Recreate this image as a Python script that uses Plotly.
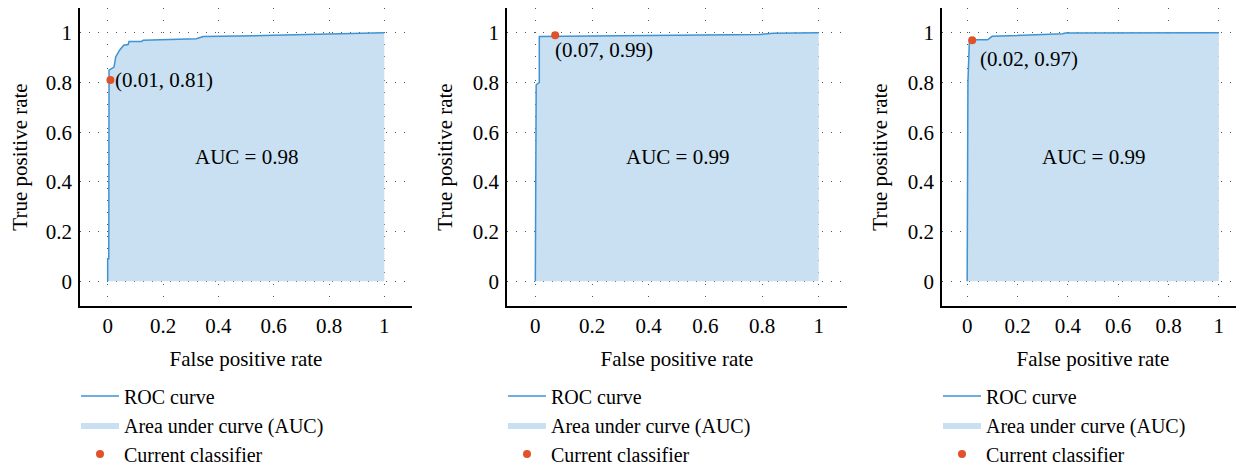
import plotly.graph_objects as go

# ---- data ----
fpr1 = [0.0, 0.0, 0.004, 0.005, 0.023, 0.029, 0.043, 0.058, 0.074, 0.077, 0.122, 0.128, 0.321, 0.345, 0.6, 0.85, 1.0]
tpr1 = [0.0, 0.09, 0.09, 0.850, 0.862, 0.903, 0.930, 0.950, 0.953, 0.965, 0.965, 0.970, 0.976, 0.985, 0.990, 0.995, 1.0]
fpr2 = [0.0, 0.003, 0.014, 0.014, 0.2, 0.5, 0.79, 0.84, 1.0]
tpr2 = [0.0, 0.79, 0.80, 0.985, 0.987, 0.990, 0.993, 0.998, 1.0]
fpr3 = [0.0, 0.003, 0.009, 0.02, 0.081, 0.099, 0.28, 0.29, 0.38, 0.39, 1.0]
tpr3 = [0.0, 0.80, 0.972, 0.972, 0.972, 0.986, 0.992, 0.995, 0.996, 0.999, 1.0]

points_x = [0.01, 0.07, 0.02]
points_y = [0.81, 0.99, 0.97]
point_labels = ["(0.01, 0.81)", "(0.07, 0.99)", "(0.02, 0.97)"]
auc_labels = ["AUC = 0.98", "AUC = 0.99", "AUC = 0.99"]

tick_vals = [0, 0.2, 0.4, 0.6, 0.8, 1]
tick_text = ["0", "0.2", "0.4", "0.6", "0.8", "1"]

series_names = ["ROC curve", "Area under curve (AUC)", "Current classifier"]

# ---- style ----
FONT = "Liberation Serif"
FS = 21
LEG_FS = 20
LINE_C = "#3f93d3"
FILL_C = "#c8e0f1"
DOT_C = "#e0532a"

# page has an 8px body margin; figure is sized to fit the visible window
W, H = 1236, 462
M_T, M_B = 0, 164
domains = [[72 / W, 404 / W], [499 / W, 839 / W], [934 / W, 1.0]]
legend_x = [68 / W, 495 / W, 930 / W]
label_shift = [(3, 0), (-2, -15), (6, -19)]

curves = [(fpr1, tpr1), (fpr2, tpr2), (fpr3, tpr3)]

fig = go.Figure()
for i, (fx, ty) in enumerate(curves):
    sfx = "" if i == 0 else str(i + 1)
    xa, ya = "x" + sfx, "y" + sfx
    leg = "legend" + sfx
    fig.add_trace(go.Scatter(x=fx, y=ty, mode="lines", fill="tozeroy",
                             fillcolor=FILL_C, line=dict(width=0, color=FILL_C),
                             name=series_names[1], legend=leg, legendrank=2,
                             xaxis=xa, yaxis=ya, hoverinfo="skip"))
    fig.add_trace(go.Scatter(x=fx, y=ty, mode="lines",
                             line=dict(width=1.5, color=LINE_C),
                             name=series_names[0], legend=leg, legendrank=1,
                             xaxis=xa, yaxis=ya))
    fig.add_trace(go.Scatter(x=[points_x[i]], y=[points_y[i]], mode="markers",
                             marker=dict(size=8, color=DOT_C),
                             name=series_names[2], legend=leg, legendrank=3,
                             xaxis=xa, yaxis=ya))
    xs, ys = label_shift[i]
    fig.add_annotation(x=points_x[i], y=points_y[i], xref=xa, yref=ya,
                       text=point_labels[i], showarrow=False, xanchor="left",
                       yanchor="middle", xshift=xs, yshift=ys,
                       font=dict(family=FONT, size=FS, color="black"))
    fig.add_annotation(x=0.5, y=0.5, xref=xa, yref=ya, text=auc_labels[i],
                       showarrow=False, xanchor="center", yanchor="middle",
                       font=dict(family=FONT, size=FS, color="black"))

    axis_common = dict(range=[-0.1, 1.1], tickvals=tick_vals, ticktext=tick_text,
                       showline=True, linecolor="black", linewidth=1.5,
                       showgrid=True, gridcolor="#555555", gridwidth=1,
                       zeroline=False, ticks="", automargin=False,
                       tickfont=dict(family=FONT, size=FS, color="black"))
    fig.layout["xaxis" + sfx] = dict(axis_common, domain=domains[i], anchor=ya,
                                     griddash="1px,11px", ticklabelstandoff=0,
                                     title=dict(text="False positive rate", standoff=14,
                                                font=dict(family=FONT, size=FS, color="black")))
    fig.layout["yaxis" + sfx] = dict(axis_common, domain=[0, 1], anchor=xa,
                                     griddash="1px,8px", ticklabelstandoff=2,
                                     title=dict(text="True positive rate", standoff=14,
                                                font=dict(family=FONT, size=FS, color="black")))
    fig.layout[leg] = dict(x=legend_x[i], y=-0.2366, xanchor="left", yanchor="top",
                           orientation="v", bgcolor="rgba(0,0,0,0)",
                           traceorder="normal", tracegroupgap=0, itemwidth=38,
                           font=dict(family=FONT, size=LEG_FS, color="black"))

fig.update_layout(width=W, height=H,
                  margin=dict(l=0, r=0, t=M_T, b=M_B, autoexpand=False),
                  paper_bgcolor="white", plot_bgcolor="white", showlegend=True,
                  font=dict(family=FONT, size=FS, color="black"))

fig.write_html("out.html")
